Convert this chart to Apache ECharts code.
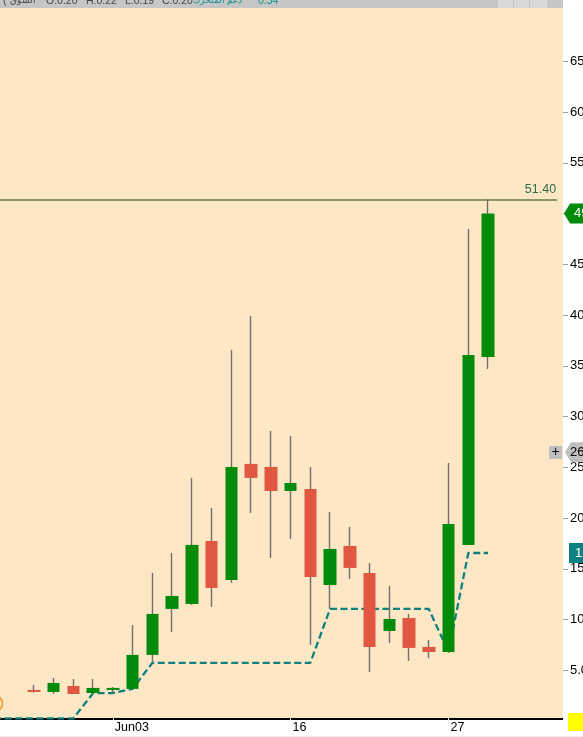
<!DOCTYPE html>
<html>
<head>
<meta charset="utf-8">
<title>Daily candles</title>
<style>html,body{margin:0;padding:0;background:#fff}#chart{width:583px;height:737px}</style>
<script src="https://cdn.jsdelivr.net/npm/echarts@6/dist/echarts.min.js"></script>
</head>
<body>
<div id="chart"></div>
<script>
// Trading days shown on the time axis (a few spare slots on each side).
const days = ['May26','May27','May28','May29','May30','Jun02','Jun03','Jun04','Jun05','Jun06',
  'Jun09','Jun10','Jun11','Jun12','Jun13','Jun16','Jun17','Jun18','Jun20','Jun23',
  'Jun24','Jun25','Jun26','Jun27','Jun30','Jul01','Jul02','Jul03','Jul07'];
const dayTicks = {Jun03:'Jun03', Jun16:'16', Jun27:'27'};
const priceTicks = [5,10,15,20,25,30,35,40,45,50,55,60,65];

// Daily prices, null where the slot has no trading data yet.
const opens  = [null,null,3.06,2.86,3.45,2.76,3.06,3.16,6.51,11.04,11.53,17.74,13.90,25.33,25.03,22.66,22.86,13.40,17.25,14.59,8.87,10.15,7.30,6.80,17.35,35.87,null,null,null];
const closes = [null,null,2.86,3.75,2.66,3.26,3.26,6.51,10.55,12.32,17.35,13.11,25.03,23.95,22.66,23.45,14.19,16.95,15.08,7.30,10.05,7.20,6.80,19.41,36.07,49.99,null,null,null];
const lows   = [null,null,2.79,2.66,2.66,2.76,2.76,3.16,5.72,8.77,11.43,11.24,13.60,20.50,16.06,17.94,7.49,11.04,14.00,4.83,7.69,5.92,6.21,6.70,17.35,34.69,null,null,null];
const highs  = [null,null,3.55,4.24,4.14,4.14,3.35,9.46,14.59,16.56,23.95,20.99,36.56,39.91,28.58,28.08,25.03,20.60,19.12,15.57,13.31,10.55,7.99,25.42,48.48,51.40,null,null,null];

// Stepped support level under the candles.
const support = [0.25,0.25,0.25,0.25,0.25,2.73,2.76,3.16,5.72,5.72,5.72,5.72,5.72,5.72,5.72,5.72,5.72,11.04,11.04,11.04,11.04,11.04,11.04,6.80,16.55,16.55,null,null,null];

const peakLevel = 51.40;
const lastPrice = 49.99;
const crosshairPrice = 26.47;
const supportLevel = 16.55;

const GREEN = '#008b0b', RED = '#e25742', WICK = '#707070', TEAL = '#0f8080', CREAM = '#fde7c4';
const FONT = '"Liberation Sans", Arial, sans-serif';

const wickData = days.map((_, i) => opens[i] == null ? [] : [opens[i], closes[i], lows[i], highs[i]]);
const bodyData = days.map((_, i) => opens[i] == null ? [] : [opens[i], closes[i],
  Math.min(opens[i], closes[i]), Math.max(opens[i], closes[i])]);

const chart = echarts.init(document.getElementById('chart'), null, {renderer: 'canvas'});

// Panels around the plot: header strip, background, baseline and corner markers.
const rect = (x, y, width, height, fill, z) => ({type: 'rect', shape: {x, y, width, height}, style: {fill}, z, silent: true});
const headerText = (text, x, fill, size, align) => ({type: 'text', x, y: -4, z: 21, silent: true,
  style: {text, fill, font: (size || 10.5) + 'px ' + FONT, align: align || 'left'}});

const frame = [
  rect(0, 8, 563, 711, CREAM, -5),
  rect(0, 718, 563, 2, '#000000', -4),
  rect(0, 0, 563, 8, '#c6c6c6', 20),
  rect(498, 0, 15, 8, '#d9d9d9', 21),
  rect(514, 0, 15, 8, '#d9d9d9', 21),
  rect(530, 0, 17, 8, '#d9d9d9', 21),
  rect(568, 713, 15, 18, '#ffff00', 20),
  rect(0, 736, 583, 1, '#eeeeee', 20),
  headerText('(', 3, '#444444'),
  headerText('السوق', 36, '#444444', 8.5, 'right'),
  headerText('O:0.20', 46, '#444444'),
  headerText('H:0.22', 86, '#444444'),
  headerText('L:0.19', 125, '#444444'),
  headerText('C:0.20', 162, '#444444'),
  headerText('دعم المتحرك', 242, '#0f8f8f', 8.5, 'right'),
  headerText('0.34', 258, '#0f8f8f'),
  {type: 'circle', shape: {cx: -5, cy: 703.5, r: 7.5}, style: {fill: 'none', stroke: '#f0a23c', lineWidth: 2}, z: 20, silent: true},
  rect(549, 446, 13, 13, '#c0c0c0', 20),
  {type: 'text', x: 555.5, y: 452.5, z: 21, silent: true,
    style: {text: '+', fill: '#111111', font: '14px ' + FONT, align: 'center', verticalAlign: 'middle'}}
];

chart.setOption({
  animation: false,
  backgroundColor: '#ffffff',
  grid: {left: -15.6, top: 10.5, width: 572.75, height: 710.5, outerBoundsMode: 'none'},
  xAxis: {
    type: 'category',
    data: days,
    boundaryGap: true,
    axisLine: {show: false},
    axisTick: {
      show: true, inside: true, length: 3, alignWithLabel: true,
      interval: (i, name) => name in dayTicks,
      lineStyle: {color: '#e8e8e8', width: 1}
    },
    axisLabel: {
      interval: (i, name) => name in dayTicks,
      formatter: name => dayTicks[name] || '',
      align: 'left', verticalAlign: 'top', margin: 0, padding: [0, 0, 0, 2],
      color: '#000000', fontFamily: FONT, fontSize: 12.5, hideOverlap: false
    },
    splitLine: {show: false}
  },
  yAxis: {
    type: 'value',
    position: 'right',
    offset: 5.85,
    min: 0, max: 70, interval: 5,
    axisLine: {show: false},
    axisTick: {show: true, length: 5, customValues: priceTicks, lineStyle: {color: '#a0a0a0'}},
    axisLabel: {
      customValues: priceTicks,
      formatter: v => v.toFixed(2),
      margin: 7, align: 'left', color: '#000000', fontFamily: FONT, fontSize: 13
    },
    splitLine: {show: false}
  },
  graphic: {elements: frame},
  series: [
    {
      name: 'Support',
      type: 'line',
      z: 1,
      data: support,
      symbol: 'none',
      connectNulls: false,
      lineStyle: {color: TEAL, width: 2.3, type: [7, 3.5]},
      markLine: {
        silent: true,
        symbol: 'none',
        animation: false,
        data: [{yAxis: peakLevel}],
        lineStyle: {color: '#5f7f45', type: 'solid', width: 1.5},
        label: {
          position: 'insideEndTop', formatter: () => peakLevel.toFixed(2),
          color: '#2f6b4a', fontFamily: FONT, fontSize: 12.5, distance: 3, offset: [2, 0]
        }
      }
    },
    {
      name: 'Range',
      type: 'candlestick',
      z: 2,
      barWidth: 1,
      data: wickData,
      itemStyle: {color: WICK, color0: WICK, borderColor: WICK, borderColor0: WICK, borderWidth: 1.4}
    },
    {
      name: 'Price',
      type: 'candlestick',
      z: 3,
      barWidth: 13,
      data: bodyData,
      itemStyle: {color: GREEN, color0: RED, borderColor: GREEN, borderColor0: RED, borderWidth: 0}
    }
  ]
});

// Right-edge price flags, placed through the value axis.
const priceY = v => chart.convertToPixel({yAxisIndex: 0}, v);
const flag = (value, fill, textColor, pointed, left, textX) => {
  const y = priceY(value);
  const shape = pointed
    ? [[left, y], [left + 6, y - 10], [583, y - 10], [583, y + 10], [left + 6, y + 10]]
    : [[left, y - 10], [583, y - 10], [583, y + 10], [left, y + 10]];
  return [
    {type: 'polygon', shape: {points: shape}, style: {fill}, z: 30, silent: true},
    {type: 'text', x: textX, y, z: 31, silent: true,
      style: {text: value.toFixed(2), fill: textColor, font: '13px ' + FONT, verticalAlign: 'middle'}}
  ];
};
chart.setOption({graphic: {elements: frame.concat(
  flag(lastPrice, GREEN, '#ffffff', true, 564, 574),
  flag(crosshairPrice, '#c0c0c0', '#000000', true, 565, 570),
  flag(supportLevel, '#0b8080', '#ffffff', false, 569, 575)
)}});
</script>
</body>
</html>
